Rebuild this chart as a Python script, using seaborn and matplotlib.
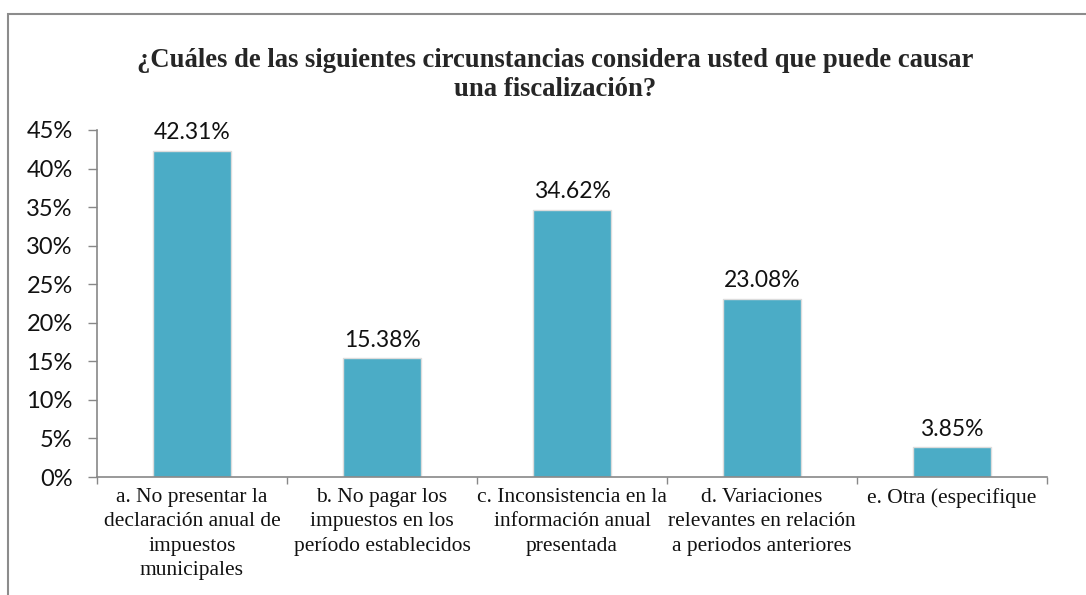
# coding: utf-8
import seaborn as sns
import matplotlib.pyplot as plt
import matplotlib.patches as mpatches
from matplotlib.ticker import FixedLocator, PercentFormatter
import pandas as pd

categorias = [
    "a. No presentar la\ndeclaración anual de\nimpuestos\nmunicipales",
    "b. No pagar los\nimpuestos en los\nperíodo establecidos",
    "c. Inconsistencia en la\ninformación anual\npresentada",
    "d. Variaciones\nrelevantes en relación\na periodos anteriores",
    "e. Otra (especifique",
]
porcentajes = [42.31, 15.38, 34.62, 23.08, 3.85]
etiquetas = ["42.31%", "15.38%", "34.62%", "23.08%", "3.85%"]
titulo = "¿Cuáles de las siguientes circunstancias considera usted que puede causar\nuna fiscalización?"

df = pd.DataFrame({"cat": categorias, "pct": porcentajes})

sns.set_theme(style="white")
plt.rcParams['font.family'] = ['Lato', 'DejaVu Sans']

width, height, my_dpi = 1086, 595, 100
fig = plt.figure(figsize=(width / my_dpi, height / my_dpi), dpi=my_dpi)
ax = fig.add_axes([97 / width, 1 - 477 / height, 950 / width, 347 / height])

sns.barplot(data=df, x="cat", y="pct", color="#4BACC6", saturation=1, width=0.41,
            edgecolor="#dcdcdc", linewidth=1.0, ax=ax)

for i, (v, t) in enumerate(zip(porcentajes, etiquetas)):
    ax.text(i, v + 1.0, t, ha="center", va="bottom", fontsize=16.5, color="#111111")

ax.set_xlim(-0.5, 4.5)
ax.set_ylim(0, 45)
ax.yaxis.set_major_locator(FixedLocator(range(0, 50, 5)))
ax.yaxis.set_major_formatter(PercentFormatter(decimals=0))
ax.set_xlabel("")
ax.set_ylabel("")

# x ticks between categories
ax.set_xticks(range(len(categorias)))
ax.set_xticklabels(categorias, family="Liberation Serif", fontsize=15.5, color="#111111",
                   linespacing=1.38, va="top")
ax.xaxis.set_minor_locator(FixedLocator([-0.5, 0.5, 1.5, 2.5, 3.5, 4.5]))
ax.tick_params(axis="x", which="major", length=0, pad=8)
ax.tick_params(axis="x", which="minor", length=5, width=1, color="#888888", direction="out", bottom=True)
ax.tick_params(axis="y", length=6.5, width=1, color="#888888", direction="out", left=True,
               labelsize=17, labelcolor="#111111", pad=11)

for s in ["top", "right"]:
    ax.spines[s].set_visible(False)
for s in ["left", "bottom"]:
    ax.spines[s].set_color("#888888")
    ax.spines[s].set_linewidth(1.2)

fig.text(555 / width, 1 - 75 / height, titulo, ha="center", va="center",
         family="Liberation Serif", fontweight="bold", fontsize=19.2, linespacing=1.2)

# outer chart frame
fig.patches.append(mpatches.Rectangle((8 / width, -0.05), 1.1, 1 - 14 / height + 0.05,
                                      transform=fig.transFigure, fill=False,
                                      edgecolor="#8c8c8c", linewidth=1.5))

plt.savefig("out.png", dpi=my_dpi)
